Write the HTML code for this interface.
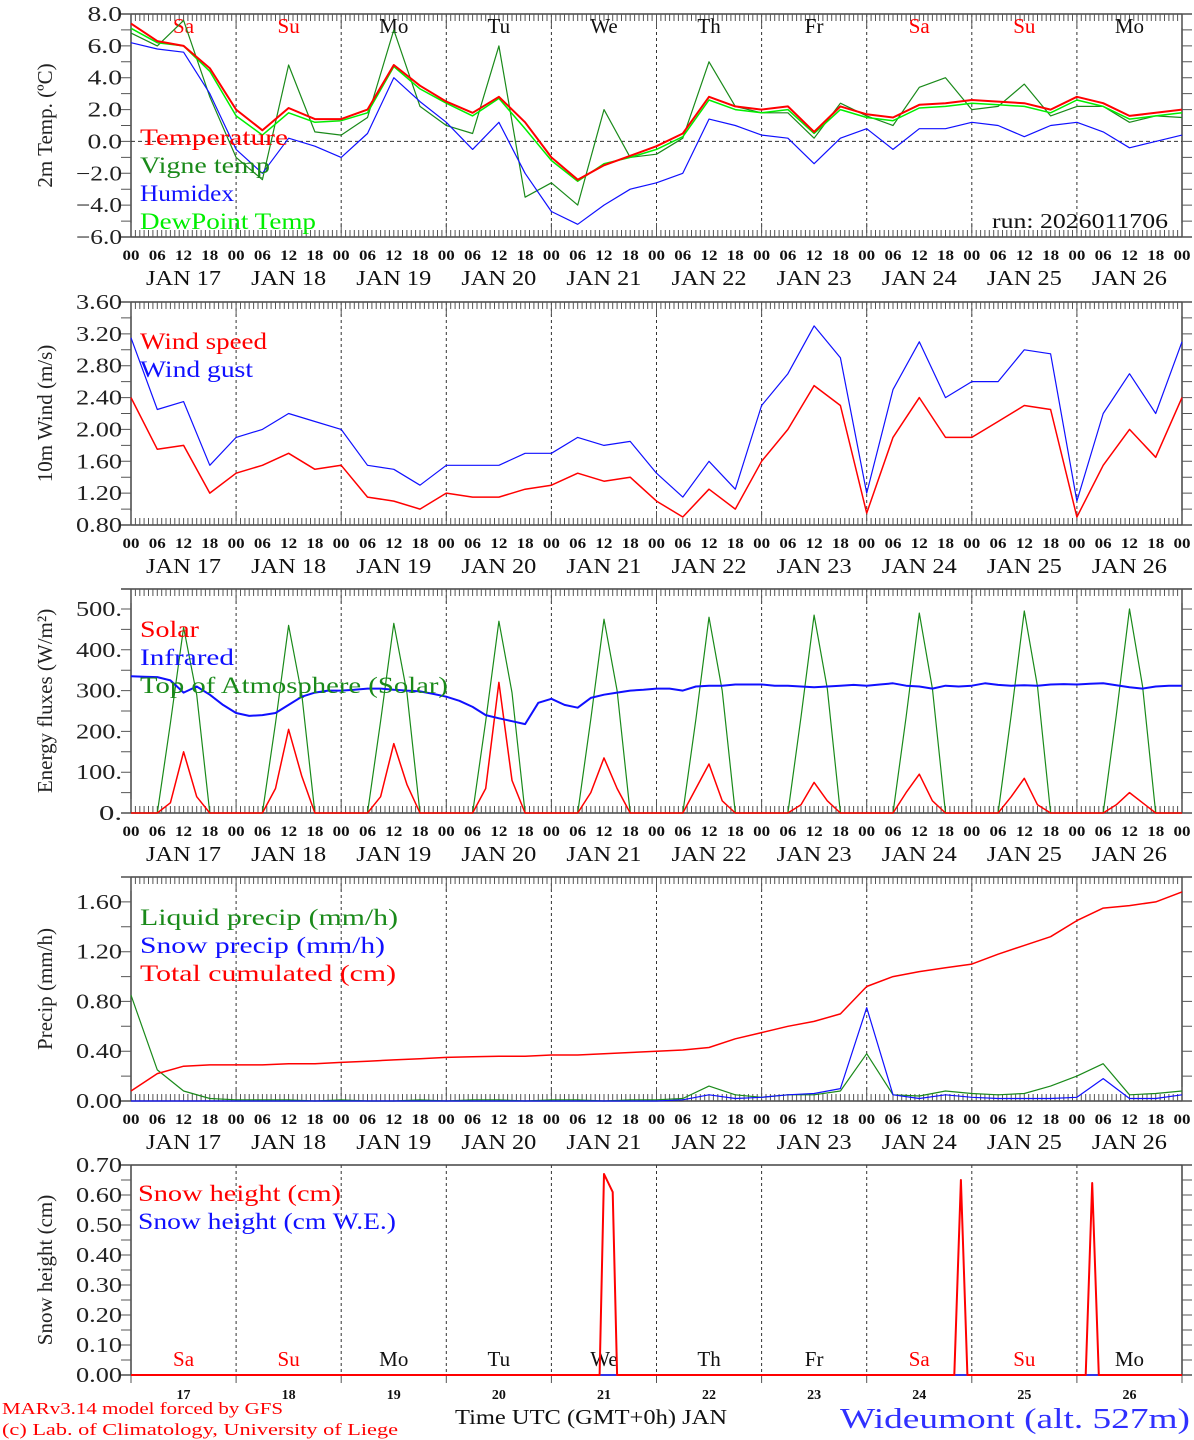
<!DOCTYPE html>
<html><head><meta charset="utf-8"><style>
html,body{margin:0;padding:0;background:#fff;}
svg{display:block;font-family:"Liberation Serif",serif;}
</style></head><body>
<svg id="chart" xmlns="http://www.w3.org/2000/svg" width="1194" height="1440" viewBox="0 0 1194 1440"></svg>
<script>
// ---------- DATA ----------
const dayLabels = ["JAN 17","JAN 18","JAN 19","JAN 20","JAN 21","JAN 22","JAN 23","JAN 24","JAN 25","JAN 26"];
const dayNames = ["Sa","Su","Mo","Tu","We","Th","Fr","Sa","Su","Mo"];
const dayNums = ["17","18","19","20","21","22","23","24","25","26"];
const weekendDays = [true,true,false,false,false,false,false,true,true,false];
const hourLabels = ["00","06","12","18"];
// 6-hourly series (h = 0..240)
const temperature = [7.4,6.3,6.0,4.6,2.0,0.7,2.1,1.4,1.4,2.0,4.8,3.5,2.5,1.8,2.8,1.2,-1.0,-2.4,-1.5,-0.9,-0.3,0.5,2.8,2.2,2.0,2.2,0.6,2.2,1.7,1.5,2.3,2.4,2.6,2.5,2.4,2.0,2.8,2.4,1.6,1.8,2.0];
const vigneTemp = [6.8,6.0,7.6,2.8,-1.0,-2.4,4.8,0.6,0.4,1.5,7.0,2.2,1.0,0.5,6.0,-3.5,-2.6,-4.0,2.0,-1.0,-0.8,0.2,5.0,2.2,1.8,1.8,0.2,2.4,1.6,1.0,3.4,4.0,2.0,2.2,3.6,1.6,2.2,2.2,1.2,1.6,1.5];
const humidex = [6.2,5.8,5.6,3.0,-0.5,-2.0,0.2,-0.3,-1.0,0.5,4.0,2.5,1.2,-0.5,1.2,-2.0,-4.4,-5.2,-4.0,-3.0,-2.6,-2.0,1.4,1.0,0.4,0.2,-1.4,0.2,0.8,-0.5,0.8,0.8,1.2,1.0,0.3,1.0,1.2,0.6,-0.4,0.0,0.4];
const dewPoint = [7.1,6.2,6.0,4.4,1.6,0.4,1.8,1.2,1.3,1.8,4.7,3.3,2.4,1.6,2.7,0.8,-1.2,-2.5,-1.4,-1.0,-0.5,0.3,2.6,2.0,1.8,2.0,0.5,2.0,1.5,1.3,2.1,2.2,2.4,2.3,2.2,1.8,2.6,2.2,1.4,1.6,1.8];
const windSpeed = [2.40,1.75,1.80,1.20,1.45,1.55,1.70,1.50,1.55,1.15,1.10,1.00,1.20,1.15,1.15,1.25,1.30,1.45,1.35,1.40,1.10,0.90,1.25,1.00,1.60,2.00,2.55,2.30,0.95,1.90,2.40,1.90,1.90,2.10,2.30,2.25,0.90,1.55,2.00,1.65,2.40];
const windGust = [3.15,2.25,2.35,1.55,1.90,2.00,2.20,2.10,2.00,1.55,1.50,1.30,1.55,1.55,1.55,1.70,1.70,1.90,1.80,1.85,1.45,1.15,1.60,1.25,2.30,2.70,3.30,2.90,1.20,2.50,3.10,2.40,2.60,2.60,3.00,2.95,1.10,2.20,2.70,2.20,3.10];
const liquidPrecip = [0.85,0.25,0.08,0.02,0.01,0.01,0.01,0.0,0.01,0.0,0.0,0.01,0.0,0.01,0.01,0.0,0.01,0.01,0.0,0.01,0.01,0.02,0.12,0.05,0.03,0.05,0.05,0.08,0.38,0.05,0.04,0.08,0.06,0.05,0.06,0.12,0.2,0.3,0.05,0.06,0.08];
const snowPrecip = [0,0,0,0,0,0,0,0,0,0,0,0,0,0,0,0,0,0,0,0,0,0.01,0.05,0.02,0.03,0.05,0.06,0.1,0.75,0.05,0.02,0.05,0.03,0.02,0.02,0.02,0.03,0.18,0.02,0.02,0.05];
const totalCumul = [0.08,0.22,0.28,0.29,0.29,0.29,0.30,0.30,0.31,0.32,0.33,0.34,0.35,0.355,0.36,0.36,0.37,0.37,0.38,0.39,0.40,0.41,0.43,0.50,0.55,0.60,0.64,0.70,0.92,1.00,1.04,1.07,1.10,1.18,1.25,1.32,1.45,1.55,1.57,1.60,1.68];
// 3-hourly series (h = 0..240)
const toaSolar = [0,0,0,220,455,290,0,0, 0,0,0,220,460,290,0,0, 0,0,0,225,465,295,0,0, 0,0,0,225,470,295,0,0, 0,0,0,230,475,300,0,0, 0,0,0,230,480,300,0,0, 0,0,0,235,485,305,0,0, 0,0,0,235,490,305,0,0, 0,0,0,240,495,310,0,0, 0,0,0,240,500,310,0,0, 0];
const solar = [0,0,0,25,150,40,0,0, 0,0,0,60,205,90,0,0, 0,0,0,40,170,70,0,0, 0,0,0,60,320,80,0,0, 0,0,0,50,135,60,0,0, 0,0,0,60,120,30,0,0, 0,0,0,20,75,30,0,0, 0,0,0,50,95,30,0,0, 0,0,0,40,85,20,0,0, 0,0,0,20,50,25,0,0, 0];
const infrared = [335,334,333,325,295,310,290,265, 245,238,240,245,265,285,295,300, 300,302,305,305,302,300,298,292, 285,275,260,240,232,225,218,270, 280,265,258,282,290,295,300,302, 305,305,300,310,312,312,315,315, 315,312,312,310,308,310,312,314, 312,315,318,312,310,305,312,310, 312,318,314,312,313,312,315,316, 315,317,318,313,308,305,310,312, 312];
// snow height (hour, value) pairs
const snowHours = [0,107,108,110,111,188,189.5,191,218,219.5,221,240];
const snowHeight = [0,0,0.67,0.61,0,0,0.65,0,0,0.64,0,0];
const snowWE = [0,0,0,0,0,0,0,0,0,0,0,0];

// ---------- DRAWING ----------
const svg = document.getElementById('chart');
const NS = 'http://www.w3.org/2000/svg';
const X0 = 131, X1 = 1182;
const xs = h => X0 + h * (X1 - X0) / 240;
const hours6 = []; for (let i = 0; i <= 40; i++) hours6.push(i * 6);
const hours3 = []; for (let i = 0; i <= 80; i++) hours3.push(i * 3);

function mk(tag, attrs, name, inter, parent) {
  const el = document.createElementNS(NS, tag);
  for (const k in attrs) el.setAttribute(k, attrs[k]);
  
  
  (parent || svg).appendChild(el);
  return el;
}
function txt(s, x, y, size, fill, anchor, name, extra) {
  const a = {x: x, y: y, 'font-size': size, fill: fill, 'text-anchor': anchor || 'start'};
  if (extra) for (const k in extra) a[k] = extra[k];
  const t = mk('text', a, name, 'false');
  t.textContent = s;
  return t;
}

const panels = [
  {top:14, bot:237, min:-6, max:8, step:2, minor:1, dec:1, title:'2m Temp. (ºC)', name:'temperature-panel'},
  {top:302, bot:525, min:0.8, max:3.6, step:0.4, minor:0.2, dec:2, title:'10m Wind (m/s)', name:'wind-panel'},
  {top:589, bot:813, min:0, max:549, step:100, minor:50, dec:-1, title:'Energy fluxes (W/m²)', name:'energy-panel', tmax:500},
  {top:877, bot:1101, min:0, max:1.8, step:0.4, minor:0.2, dec:2, title:'Precip (mm/h)', name:'precip-panel', tmax:1.6},
  {top:1165, bot:1375, min:0, max:0.7, step:0.1, minor:0.05, dec:2, title:'Snow height (cm)', name:'snow-panel', last:true}
];
panels.forEach(p => { p.y = v => p.bot - (v - p.min) * (p.bot - p.top) / (p.max - p.min); });

panels.forEach((p, pi) => {
  const g = mk('g', {}, p.name, 'false');
  for (let d = 1; d < 10; d++) mk('line', {x1:xs(d*24), x2:xs(d*24), y1:p.top, y2:p.bot, stroke:'#333', 'stroke-width':1, 'stroke-dasharray':'3,3'}, 'day-separator', 'false', g);
  mk('line', {x1:X0, x2:X0, y1:p.top, y2:p.bot, stroke:'#444', 'stroke-width':1.5}, 'y-axis-line', 'false', g);
  mk('line', {x1:X1, x2:X1, y1:p.top, y2:p.bot, stroke:'#444', 'stroke-width':1.5}, 'right-axis-line', 'false', g);
  mk('line', {x1:X0-10, x2:X1+10, y1:p.top, y2:p.top, stroke:'#444', 'stroke-width':1.5}, 'top-axis-line', 'false', g);
  mk('line', {x1:X0-10, x2:X1+10, y1:p.bot, y2:p.bot, stroke:'#444', 'stroke-width':1.5}, 'x-axis-line', 'false', g);
  if (!p.last) {
    let d = '';
    for (let h = 0; h <= 240; h++) {
      const x = xs(h).toFixed(1), L = (h % 24 === 0) ? 14 : 7;
      d += 'M' + x + ' ' + p.top + 'v' + L + 'M' + x + ' ' + p.bot + 'v-' + L;
    }
    mk('path', {d: d, stroke:'#555', 'stroke-width':1, fill:'none'}, 'hour-ticks', 'false', g);
  } else {
    let d = '';
    for (let i = 0; i <= 10; i++) d += 'M' + xs(i*24).toFixed(1) + ' ' + p.bot + 'v8';
    mk('path', {d: d, stroke:'#555', 'stroke-width':1, fill:'none'}, 'day-ticks', 'false', g);
  }
  let yd = '';
  for (let v = p.min; v <= p.max + 1e-9; v += p.minor) {
    const y = p.y(v).toFixed(1);
    yd += 'M' + (X0-10) + ' ' + y + 'h10M' + X1 + ' ' + y + 'h10';
  }
  mk('path', {d: yd, stroke:'#555', 'stroke-width':1, fill:'none'}, 'y-minor-ticks', 'false', g);
  const tmax = p.tmax !== undefined ? p.tmax : p.max;
  for (let v = p.min; v <= tmax + 1e-9; v += p.step) {
    const lab = p.dec < 0 ? Math.round(v) + '.' : v.toFixed(p.dec).replace('-', '−');
    txt(lab, 122, p.y(v) + 7, 21, '#222', 'end', 'y-tick-label', {textLength: lab.length * 11.5, lengthAdjust:'spacingAndGlyphs'});
  }
  const cy = (p.top + p.bot) / 2;
  txt(p.title, 52, cy, 21, '#222', 'middle', 'y-axis-title', {transform:'rotate(-90 52 ' + cy + ')'});
  if (!p.last) {
    for (let dd = 0; dd < 10; dd++) {
      for (let k = 0; k < 4; k++) txt(hourLabels[k], xs(dd*24 + k*6), p.bot + 23, 15, '#111', 'middle', 'x-tick-label', {'font-weight':'bold', textLength:17, lengthAdjust:'spacingAndGlyphs'});
      txt(dayLabels[dd], xs(dd*24 + 12), p.bot + 48, 21, '#111', 'middle', 'day-label', {textLength:75, lengthAdjust:'spacingAndGlyphs'});
    }
    txt(hourLabels[0], xs(240), p.bot + 23, 15, '#111', 'middle', 'x-tick-label', {'font-weight':'bold', textLength:17, lengthAdjust:'spacingAndGlyphs'});
  } else {
    for (let dd = 0; dd < 10; dd++) {
      txt(dayNames[dd], xs(dd*24 + 12), p.bot - 9, 21, weekendDays[dd] ? '#f00' : '#111', 'middle', 'weekday-label');
      txt(dayNums[dd], xs(dd*24 + 12), p.bot + 24, 14, '#111', 'middle', 'day-number-label', {'font-weight':'bold'});
    }
  }
});

for (let dd = 0; dd < 10; dd++) txt(dayNames[dd], xs(dd*24 + 12), 33, 21, weekendDays[dd] ? '#f00' : '#111', 'middle', 'weekday-label');

function series(p, hs, vals, color, w, name) {
  let d = '';
  for (let i = 0; i < vals.length && i < hs.length; i++) d += (i ? 'L' : 'M') + xs(hs[i]).toFixed(1) + ' ' + p.y(vals[i]).toFixed(1);
  mk('path', {d: d, stroke: color, 'stroke-width': w, fill:'none', 'stroke-linejoin':'round'}, name, 'false');
}
const P = panels;
mk('line', {x1:X0, x2:X1, y1:P[0].y(0), y2:P[0].y(0), stroke:'#333', 'stroke-dasharray':'4,3'}, 'zero-line', 'false');
series(P[0], hours6, vigneTemp, '#1a8a1a', 1.2, 'vigne-temp-line');
series(P[0], hours6, humidex, '#1010ff', 1.2, 'humidex-line');
series(P[0], hours6, dewPoint, '#00ee00', 1.5, 'dewpoint-line');
series(P[0], hours6, temperature, '#ff0000', 2, 'temperature-line');
series(P[1], hours6, windGust, '#1010ff', 1.2, 'wind-gust-line');
series(P[1], hours6, windSpeed, '#ff0000', 1.5, 'wind-speed-line');
series(P[2], hours3, toaSolar, '#1a8a1a', 1.2, 'toa-solar-line');
series(P[2], hours3, solar, '#ff0000', 1.5, 'solar-line');
series(P[2], hours3, infrared, '#1010ff', 2, 'infrared-line');
series(P[3], hours6, liquidPrecip, '#1a8a1a', 1.2, 'liquid-precip-line');
series(P[3], hours6, snowPrecip, '#1010ff', 1.2, 'snow-precip-line');
series(P[3], hours6, totalCumul, '#ff0000', 1.5, 'total-cumulated-line');
series(P[4], snowHours, snowWE, '#1010ff', 1.5, 'snow-we-line');
series(P[4], snowHours, snowHeight, '#ff0000', 2, 'snow-height-line');

const L = (s, x, y, c, len) => txt(s, x, y, 23, c, 'start', 'legend-entry', {textLength: len, lengthAdjust:'spacingAndGlyphs'});
L('Temperature', 140, 145, '#ff0000', 148);
L('Vigne temp', 140, 173, '#1a8a1a', 130);
L('Humidex', 140, 201, '#1010ff', 94);
L('DewPoint Temp', 140, 229, '#00ee00', 176);
txt('run: 2026011706', 1168, 228, 21, '#111', 'end', 'run-label', {textLength:176, lengthAdjust:'spacingAndGlyphs'});
L('Wind speed', 140, 349, '#ff0000', 127);
L('Wind gust', 140, 377, '#1010ff', 113);
L('Solar', 140, 637, '#ff0000', 59);
L('Infrared', 140, 665, '#1010ff', 94);
L('Top of Atmosphere (Solar)', 140, 693, '#1a8a1a', 308);
L('Liquid precip (mm/h)', 140, 925, '#1a8a1a', 258);
L('Snow precip (mm/h)', 140, 953, '#1010ff', 245);
L('Total cumulated (cm)', 140, 981, '#ff0000', 256);
L('Snow height (cm)', 138, 1201, '#ff0000', 203);
L('Snow height (cm W.E.)', 138, 1229, '#1010ff', 258);

txt('MARv3.14 model forced by GFS', 2, 1414, 17, '#ff0000', 'start', 'model-credit', {textLength:281, lengthAdjust:'spacingAndGlyphs'});
txt('(c) Lab. of Climatology, University of Liege', 2, 1435, 17, '#ff0000', 'start', 'lab-credit', {textLength:396, lengthAdjust:'spacingAndGlyphs'});
txt('Time UTC (GMT+0h) JAN', 591, 1424, 21, '#111', 'middle', 'x-axis-title', {textLength:272, lengthAdjust:'spacingAndGlyphs'});
txt('Wideumont (alt. 527m)', 1190, 1428, 29, '#3030ff', 'end', 'station-title', {textLength:350, lengthAdjust:'spacingAndGlyphs'});
</script>
</body></html>
